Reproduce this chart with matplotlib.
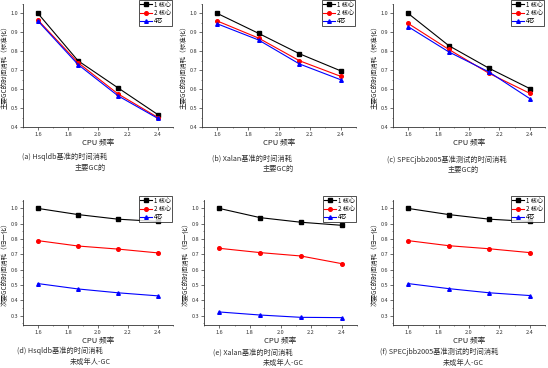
import numpy as np
import matplotlib
matplotlib.use("Agg")
import matplotlib.pyplot as plt
from matplotlib.ticker import MultipleLocator

plt.rcParams['font.family'] = ['Noto Sans CJK SC', 'DejaVu Sans']

# CPU 频率
freq = [1.6, 1.867, 2.133, 2.4]
series_labels = ["1 核心", "2 核心", "4芯"]

# 主要GC (a)(b)(c)
hsqldb_major = [[1.0, 0.75, 0.607, 0.465], [0.965, 0.74, 0.575, 0.45], [0.96, 0.73, 0.565, 0.445]]
xalan_major = [[1.0, 0.895, 0.787, 0.697], [0.96, 0.87, 0.75, 0.668], [0.945, 0.86, 0.733, 0.65]]
spec_major = [[1.0, 0.83, 0.71, 0.603], [0.947, 0.81, 0.683, 0.578], [0.93, 0.797, 0.69, 0.55]]

# 未成年人-GC (d)(e)(f)
hsqldb_minor = [[1.0, 0.96, 0.93, 0.915], [0.79, 0.755, 0.735, 0.71], [0.51, 0.475, 0.45, 0.43]]
xalan_minor = [[1.0, 0.94, 0.91, 0.89], [0.74, 0.712, 0.69, 0.64], [0.325, 0.305, 0.29, 0.288]]
spec_minor = [[1.0, 0.96, 0.93, 0.915], [0.79, 0.757, 0.737, 0.712], [0.51, 0.477, 0.45, 0.432]]

captions = ["(a) Hsqldb基准的时间消耗", "(b) Xalan基准的时间消耗", "(c) SPECjbb2005基准测试的时间消耗",
            "(d) Hsqldb基准的时间消耗", "(e) Xalan基准的时间消耗", "(f) SPECjbb2005基准测试的时间消耗"]
subcaps = ["主要GC的"] * 3 + ["未成年人-GC"] * 3

colors = ['black', 'red', 'blue']
markers = ['s', 'o', '^']

W, H = 548, 368
fig = plt.figure(figsize=(W / 100, H / 100), dpi=100)


def box(l, t, r, b):
    return [l / W, 1 - b / H, (r - l) / W, (b - t) / H]


panels = [
    (hsqldb_major, (23, 4, 173, 127), (0.4, 1.05), "主要GC的时间消耗（标准化）", (22, 157), (90, 168)),
    (xalan_major, (202, 4, 356, 127), (0.4, 1.05), "主要GC的时间消耗（标准化）", (212, 159), (278, 169)),
    (spec_major, (393, 4, 545, 127), (0.4, 1.05), "主要GC的时间消耗（标准化）", (387, 160), (463, 170)),
    (hsqldb_minor, (23, 200, 173, 325), (0.24, 1.055), "次要GC的时间消耗（归一化）", (17, 351), (90, 362)),
    (xalan_minor, (204, 200, 357, 325), (0.24, 1.055), "次要GC的时间消耗（归一化）", (213, 353), (283, 363)),
    (spec_minor, (393, 200, 545, 325), (0.24, 1.055), "次要GC的时间消耗（归一化）", (380, 352), (463, 363)),
]

for i, (data, rect, ylim, ylabel, cap_pos, sub_pos) in enumerate(panels):
    ax = fig.add_axes(box(*rect))
    for vals, c, m, lab in zip(data, colors, markers, series_labels):
        ax.plot(freq, vals, color=c, marker=m, markersize=2.6, linewidth=0.8, label=lab)
    ax.set_xlim(1.5, 2.5)
    ax.set_ylim(*ylim)
    ax.set_xticks([1.6, 1.8, 2.0, 2.2, 2.4])
    ax.set_yticks(np.arange(0.4 if i < 3 else 0.3, 1.01, 0.1))
    ax.xaxis.set_minor_locator(MultipleLocator(0.1))
    ax.yaxis.set_minor_locator(MultipleLocator(0.05))
    ax.spines['top'].set_visible(False)
    ax.spines['right'].set_visible(False)
    for s in ('left', 'bottom'):
        ax.spines[s].set_linewidth(0.6)
        ax.spines[s].set_color('#333333')
    ax.tick_params(which='major', direction='out', length=2, width=0.5, labelsize=4, pad=1.5, colors='#333333')
    ax.tick_params(which='minor', direction='out', length=1, width=0.4, colors='#333333')
    ax.set_xlabel("CPU 频率", fontsize=5.5, labelpad=1.5, color='#222222')
    ax.set_ylabel(ylabel, fontsize=4.7, labelpad=1, color='#222222')
    leg = ax.legend(loc='upper right', bbox_to_anchor=(1.0, 1.04), fontsize=4.4, frameon=True,
                    fancybox=False, edgecolor='black', handlelength=2.0, borderpad=0.15,
                    labelspacing=0.02, handletextpad=0.4, borderaxespad=0.1)
    leg.get_frame().set_linewidth(0.6)
    fig.text(cap_pos[0] / W, 1 - cap_pos[1] / H, captions[i], fontsize=5.2, va='center', ha='left', color='#333333')
    fig.text(sub_pos[0] / W, 1 - sub_pos[1] / H, subcaps[i], fontsize=5.2, va='center', ha='center', color='#333333')

fig.savefig("out.png", dpi=100)
